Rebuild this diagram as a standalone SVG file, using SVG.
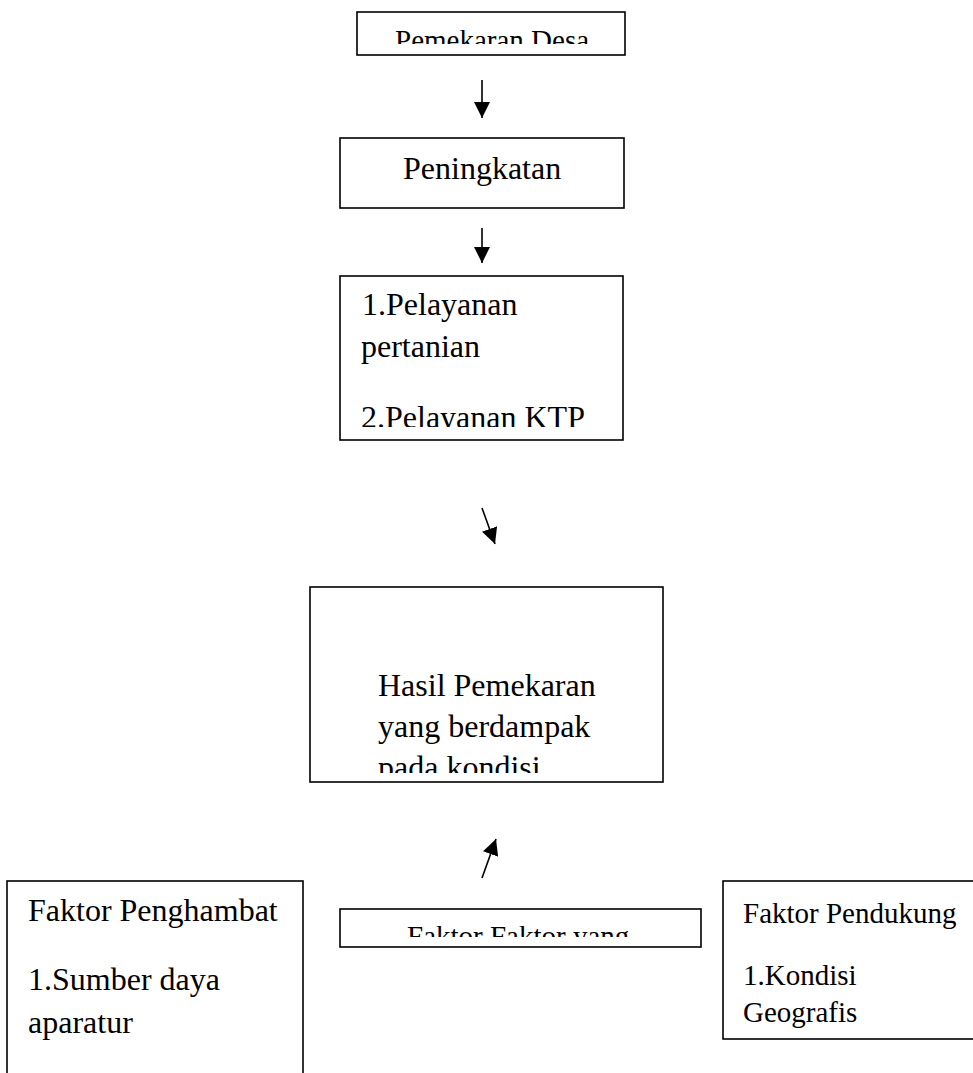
<svg xmlns="http://www.w3.org/2000/svg" width="973" height="1073" viewBox="0 0 973 1073">
<style>
.box{fill:#fff;stroke:#000;stroke-width:1.6}
.t{font-family:"Liberation Serif","Times New Roman",serif;fill:#000;font-size:32px}
.s{font-size:29px}
.c{stroke:#000;stroke-width:1.6;fill:none}
</style>
<defs>
<marker id="ah" viewBox="0 0 10 10" refX="10" refY="5" markerWidth="10" markerHeight="10" markerUnits="userSpaceOnUse" orient="auto">
<path d="M0,0 L10,5 L0,10 z" fill="#000"/>
</marker>
<marker id="ah2" viewBox="0 0 16 16" refX="16" refY="8" markerWidth="16" markerHeight="16" markerUnits="userSpaceOnUse" orient="auto">
<path d="M0,0 L16,8 L0,16 z" fill="#000"/>
</marker>
<clipPath id="c1"><rect x="357" y="12" width="268" height="32"/></clipPath>
<clipPath id="c3"><rect x="340" y="276" width="284" height="151"/></clipPath>
<clipPath id="c4"><rect x="310" y="587" width="353" height="186"/></clipPath>
<clipPath id="c5"><rect x="340" y="909" width="361" height="28"/></clipPath>
</defs>
<g id="connectors">
<line class="c" x1="482" y1="80" x2="482" y2="118" marker-end="url(#ah2)"/>
<line class="c" x1="482" y1="228" x2="482" y2="263" marker-end="url(#ah2)"/>
<line class="c" x1="482" y1="508" x2="495" y2="544" marker-end="url(#ah2)"/>
<line class="c" x1="482" y1="878" x2="496" y2="839" marker-end="url(#ah2)"/>
</g>
<g id="node-pemekaran">
<rect class="box" x="357" y="12" width="268" height="43"/>
<text class="t s" x="395" y="50" clip-path="url(#c1)">Pemekaran Desa</text>
</g>
<g id="node-peningkatan">
<rect class="box" x="340" y="138" width="284" height="70"/>
<text class="t" x="403" y="179">Peningkatan</text>
</g>
<g id="node-pelayanan">
<rect class="box" x="340" y="276" width="283" height="164"/>
<g clip-path="url(#c3)">
<text class="t" x="362" y="315">1.Pelayanan</text>
<text class="t" x="361" y="357">pertanian</text>
<text class="t" x="361" y="428">2.Pelayanan KTP</text>
</g>
</g>
<g id="node-hasil">
<rect class="box" x="310" y="587" width="353" height="195"/>
<g clip-path="url(#c4)">
<text class="t" x="378" y="696">Hasil Pemekaran</text>
<text class="t" x="378" y="737">yang berdampak</text>
<text class="t" x="378" y="778">pada kondisi</text>
</g>
</g>
<g id="node-faktor">
<rect class="box" x="340" y="909" width="361" height="38"/>
<text class="t s" x="407" y="946" clip-path="url(#c5)">Faktor Faktor yang</text>
</g>
<g id="node-penghambat">
<rect class="box" x="7" y="881" width="296" height="220"/>
<text class="t" x="28" y="921">Faktor Penghambat</text>
<text class="t" x="28" y="990">1.Sumber daya</text>
<text class="t" x="28" y="1033">aparatur</text>
</g>
<g id="node-pendukung">
<rect class="box" x="723" y="881" width="270" height="158"/>
<text class="t s" x="743" y="923">Faktor Pendukung</text>
<text class="t s" x="743" y="985">1.Kondisi</text>
<text class="t s" x="743" y="1022">Geografis</text>
</g>
</svg>
